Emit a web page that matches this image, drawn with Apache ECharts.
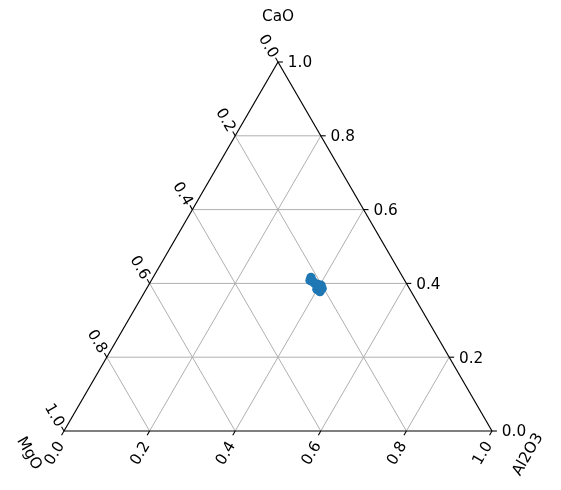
<!DOCTYPE html>
<html>
<head>
<meta charset="utf-8">
<script src="https://cdn.jsdelivr.net/npm/echarts@6/dist/echarts.min.js"></script>
<style>html,body{margin:0;padding:0;background:#fff;}#chart{width:561px;height:490px;}</style>
</head>
<body>
<div id="chart"></div>
<script>
// Ternary composition of each sample
const cao   = [0.416, 0.408, 0.405, 0.400, 0.397, 0.395, 0.389, 0.384, 0.378, 0.386];
const al2o3 = [0.369, 0.371, 0.379, 0.386, 0.395, 0.403, 0.401, 0.399, 0.409, 0.410];
const mgo   = [0.215, 0.221, 0.216, 0.214, 0.208, 0.202, 0.210, 0.217, 0.213, 0.204];
const tickValues = [0.0, 0.2, 0.4, 0.6, 0.8, 1.0];
const tickLabels = ['0.0', '0.2', '0.4', '0.6', '0.8', '1.0'];
const axisTitles = { top: 'CaO', left: 'MgO', right: 'Al2O3' };

const S3 = Math.sqrt(3) / 2;
function toXY(a, c) { return [a + c / 2, c * S3]; }

const points = cao.map((c, i) => {
  const tot = c + al2o3[i] + mgo[i];
  return toXY(al2o3[i] / tot, c / tot);
});

const TL = 4.9, PAD = 4.9, DY = 1.5;

function renderFrame(params, api) {
  const P = (a, c) => api.coord(toXY(a, c));
  const ch = [];
  const ln = (p1, p2, color, w) => ({
    type: 'line',
    shape: { x1: p1[0], y1: p1[1], x2: p2[0], y2: p2[1] },
    style: { stroke: color, lineWidth: w }
  });
  const txt = (x, y, s, rot, align, va) => ({
    type: 'text', x: x, y: y + DY, rotation: rot,
    style: { text: s, fill: '#000', fontSize: 15.3, fontFamily: 'DejaVu Sans', align: align, verticalAlign: va }
  });
  // grid lines
  tickValues.forEach(t => {
    if (t <= 0 || t >= 1) return;
    ch.push(ln(P(0, t), P(1 - t, t), '#b0b0b0', 1));      // CaO = t
    ch.push(ln(P(t, 0), P(t, 1 - t), '#b0b0b0', 1));      // Al2O3 = t
    ch.push(ln(P(1 - t, 0), P(0, 1 - t), '#b0b0b0', 1));  // MgO = t
  });
  // edges
  ch.push(ln(P(0, 0), P(1, 0), '#000', 1.2));
  ch.push(ln(P(1, 0), P(0, 1), '#000', 1.2));
  ch.push(ln(P(0, 1), P(0, 0), '#000', 1.2));
  // ticks + labels
  tickValues.forEach((t, i) => {
    const lab = tickLabels[i];
    // CaO (right edge)
    let p = P(1 - t, t);
    ch.push(ln(p, [p[0] + TL, p[1]], '#000', 1.1));
    ch.push(txt(p[0] + TL + PAD, p[1], lab, 0, 'left', 'middle'));
    // Al2O3 (bottom edge)
    p = P(t, 0);
    ch.push(ln(p, [p[0] - 0.5 * TL, p[1] + S3 * TL], '#000', 1.1));
    ch.push(txt(p[0] - 9, p[1] + 21, lab, Math.PI / 3, 'center', 'middle'));
    // MgO (left edge)
    p = P(0, 1 - t);
    ch.push(ln(p, [p[0] - 0.5 * TL, p[1] - S3 * TL], '#000', 1.1));
    ch.push(txt(p[0] - 10, p[1] - 17, lab, -Math.PI / 3, 'center', 'middle'));
  });
  // axis titles
  let v = P(0, 1);
  ch.push(txt(v[0], v[1] - 46, axisTitles.top, 0, 'center', 'middle'));
  v = P(0, 0);
  ch.push(txt(v[0] - 35, v[1] + 21, axisTitles.left, -Math.PI / 3, 'center', 'middle'));
  v = P(1, 0);
  ch.push(txt(v[0] + 36, v[1] + 22, axisTitles.right, Math.PI / 3, 'center', 'middle'));
  return { type: 'group', children: ch };
}

const chart = echarts.init(document.getElementById('chart'), null, { renderer: 'canvas' });
chart.setOption({
  animation: false,
  backgroundColor: '#fff',
  grid: { left: 64, top: 62, width: 428, height: 369 },
  xAxis: { type: 'value', min: 0, max: 1, show: false },
  yAxis: { type: 'value', min: 0, max: S3, show: false },
  series: [
    {
      type: 'custom', renderItem: renderFrame, data: [[0, 0]], z: 1, silent: true, clip: false
    },
    {
      type: 'scatter', data: points, symbolSize: 9.5, z: 5,
      itemStyle: { color: '#1f77b4', opacity: 1 }
    }
  ]
});
</script>
</body>
</html>
